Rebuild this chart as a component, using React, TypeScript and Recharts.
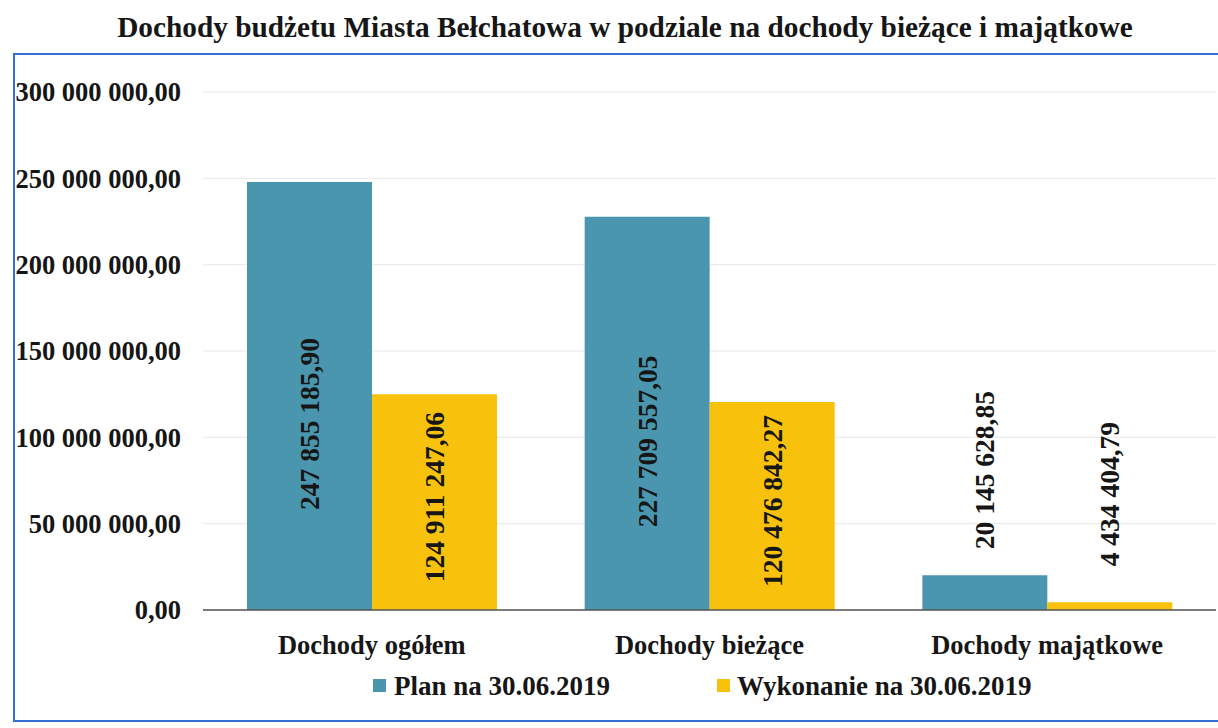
import { Bar, BarChart, CartesianGrid, LabelList, XAxis, YAxis } from 'recharts';

const categories = ['Dochody ogółem', 'Dochody bieżące', 'Dochody majątkowe'];
const planValues = [247855185.9, 227709557.05, 20145628.85];
const executionValues = [124911247.06, 120476842.27, 4434404.79];
const yTicks = [0, 50000000, 100000000, 150000000, 200000000, 250000000, 300000000];
const seriesNames = ['Plan na 30.06.2019', 'Wykonanie na 30.06.2019'];
const title = 'Dochody budżetu Miasta Bełchatowa w podziale na dochody bieżące i majątkowe';

const BLUE = '#4b96af';
const YELLOW = '#f8c20c';
const FONT = 'Liberation Serif';
const INK = '#161616';

// polish style: 247 855 185,90
function fmt(v: number) {
  const [int, dec] = Math.abs(v).toFixed(2).split('.');
  const grouped = int.replace(/\B(?=(\d{3})+(?!\d))/g, ' ');
  return `${grouped},${dec}`;
}

const data = categories.map((name, i) => ({
  name,
  plan: planValues[i],
  wykonanie: executionValues[i],
}));

// inside: centred in the bar (shifted a bit like excel does), else above the bar
const renderLabel = (shift: number, above: number) => (props: any) => {
  const { x, y, width, height, value } = props;
  const text = fmt(Number(value));
  const cx = Number(x) + Number(width) / 2;
  const inside = Number(height) > text.length * 11 + 20;
  const ly = inside ? Number(y) + Number(height) / 2 + shift : Number(y) - above;
  return (
    <text
      x={cx}
      y={ly}
      transform={`rotate(-90 ${cx} ${ly})`}
      textAnchor={inside ? 'middle' : 'start'}
      dominantBaseline="central"
      style={{ fontFamily: FONT, fontSize: 27.5, fontWeight: 700, fill: INK }}
    >
      {text}
    </text>
  );
};

const tickStyle = { fontFamily: FONT, fontWeight: 700, fill: INK };

export default function App() {
  return (
    <div style={{ position: 'absolute', left: 0, top: 0, width: 1218, height: 728, overflow: 'hidden', background: '#fff' }}>
      <div
        style={{
          position: 'absolute',
          left: 0,
          top: 9,
          width: 1250,
          textAlign: 'center',
          fontFamily: FONT,
          fontSize: 29.3,
          fontWeight: 700,
          color: INK,
          lineHeight: '36px',
          whiteSpace: 'nowrap',
        }}
      >
        {title}
      </div>
      <div
        style={{
          position: 'absolute',
          left: 13,
          top: 53,
          width: 1240,
          height: 669,
          border: '2px solid #3471d2',
          boxSizing: 'border-box',
        }}
      />
      <div style={{ position: 'absolute', left: 0, top: 0 }}>
        <BarChart
          width={1218}
          height={728}
          data={data}
          margin={{ top: 92, right: 2, bottom: 58, left: 0 }}
          barCategoryGap={44}
          barGap={0}
        >
          <CartesianGrid vertical={false} stroke="#e8e8e8" />
          <XAxis
            dataKey="name"
            height={60}
            tickLine={false}
            tickMargin={19}
            axisLine={{ stroke: '#555', strokeWidth: 1.5 }}
            tick={{ fontSize: 26.5, style: tickStyle }}
          />
          <YAxis
            width={203}
            domain={[0, 300000000]}
            ticks={yTicks}
            interval={0}
            axisLine={false}
            tickLine={false}
            tickMargin={16}
            tickFormatter={(v) => fmt(v as number)}
            tick={{ fontSize: 26.5, style: tickStyle }}
          />
          <Bar dataKey="plan" name={seriesNames[0]} fill={BLUE} isAnimationActive={false}>
            <LabelList dataKey="plan" content={renderLabel(28, 26)} />
          </Bar>
          <Bar dataKey="wykonanie" name={seriesNames[1]} fill={YELLOW} isAnimationActive={false}>
            <LabelList dataKey="wykonanie" content={renderLabel(-5, 36)} />
          </Bar>
        </BarChart>
      </div>
      <div style={{ position: 'absolute', left: 373, top: 679, width: 13, height: 13, background: BLUE }} />
      <div style={{ position: 'absolute', left: 394, top: 669, fontFamily: FONT, fontSize: 27, fontWeight: 700, lineHeight: '34px', color: INK, whiteSpace: 'nowrap' }}>
        {seriesNames[0]}
      </div>
      <div style={{ position: 'absolute', left: 717, top: 679, width: 13, height: 13, background: YELLOW }} />
      <div style={{ position: 'absolute', left: 737, top: 669, fontFamily: FONT, fontSize: 27, fontWeight: 700, lineHeight: '34px', color: INK, whiteSpace: 'nowrap' }}>
        {seriesNames[1]}
      </div>
    </div>
  );
}
